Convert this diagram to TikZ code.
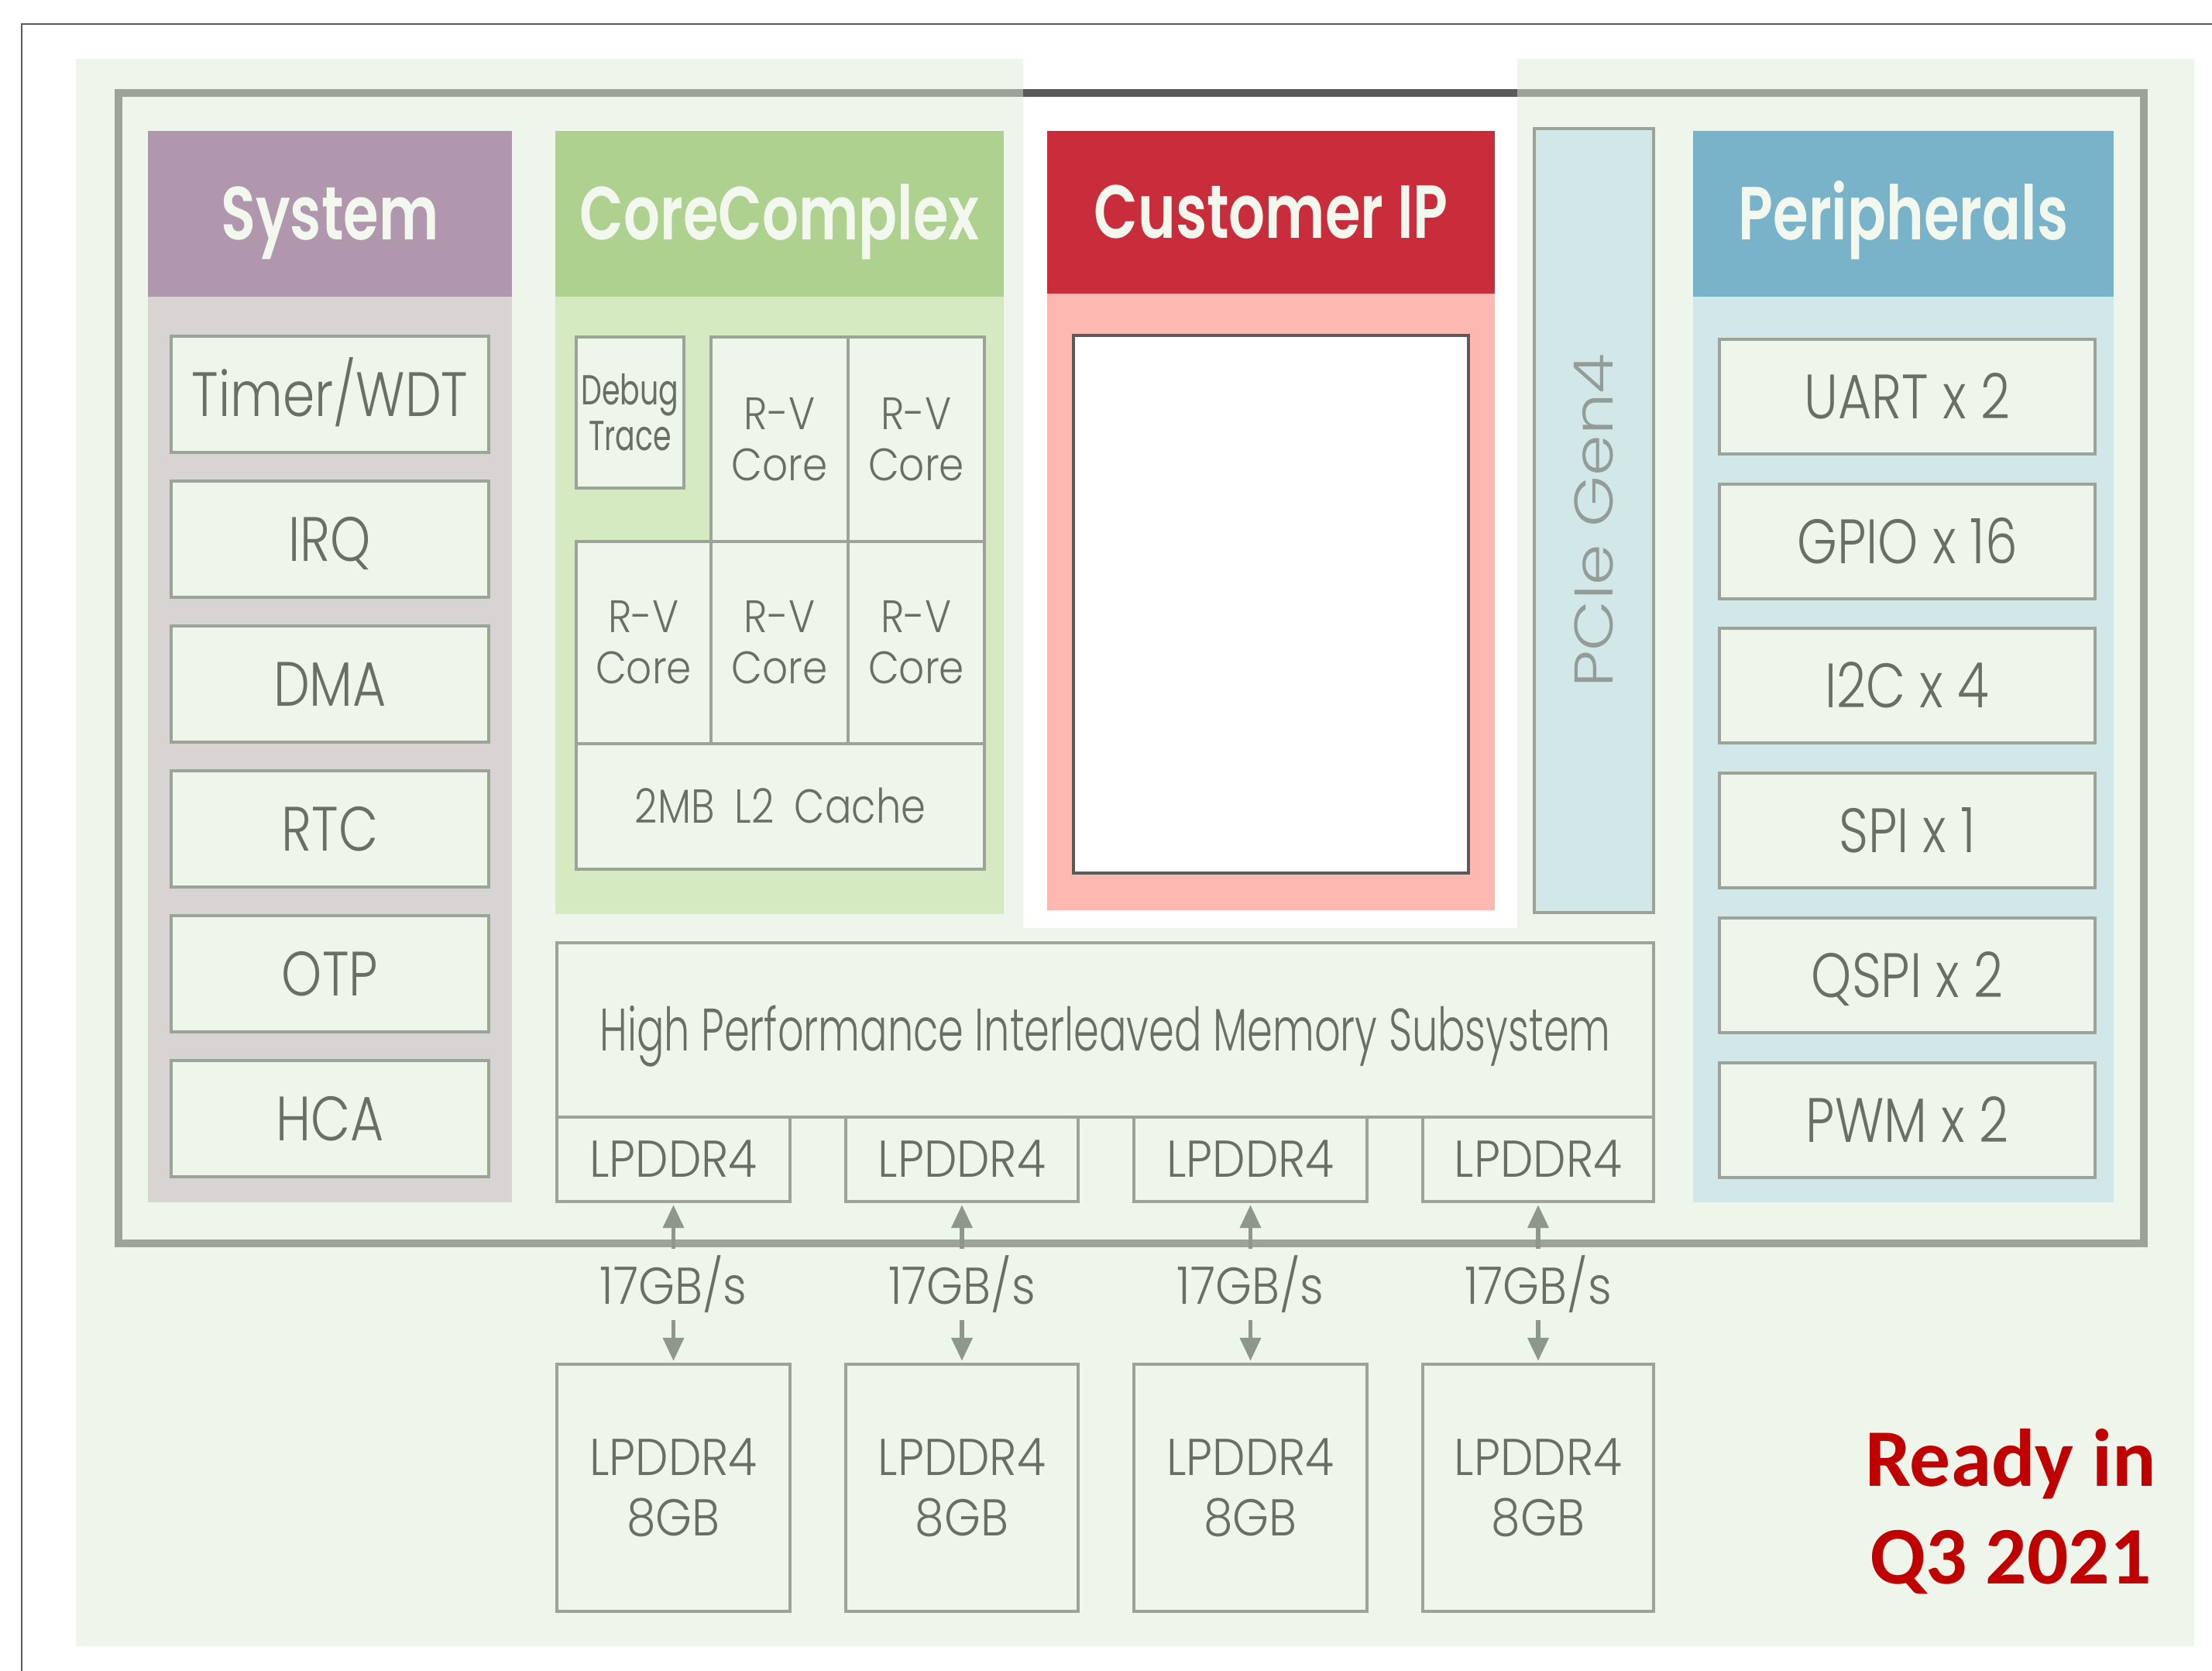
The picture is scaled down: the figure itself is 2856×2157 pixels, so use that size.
\documentclass[tikz,border=0pt]{standalone}
\usepackage{fontspec}
\usetikzlibrary{arrows.meta}
\newfontfamily\hdfont{Poppins SemiBold}[FakeStretch=0.76]
\newfontfamily\itfont{Poppins Light}[FakeStretch=0.82]
\newfontfamily\ddfont{Poppins Light}[FakeStretch=0.9]
\newfontfamily\mmfont{Poppins Light}[FakeStretch=0.68]
\newfontfamily\rvfont{Poppins Light}[FakeStretch=0.88]
\newfontfamily\lcfont{Poppins Light}[FakeStretch=0.83]
\newfontfamily\dbfont{Poppins}[FakeStretch=0.7]
\newfontfamily\pcfont{Poppins Light}[FakeStretch=1.2]
\newfontfamily\rdfont{Carlito}
\definecolor{bgc}{HTML}{EEF5EB}
\definecolor{bordc}{HTML}{9CA398}
\definecolor{txtc}{HTML}{687065}
\definecolor{sysh}{HTML}{B097AE}
\definecolor{sysb}{HTML}{D9D4D4}
\definecolor{corh}{HTML}{AED190}
\definecolor{corb}{HTML}{D5EAC1}
\definecolor{cush}{HTML}{C92C3A}
\definecolor{cusb}{HTML}{FDB9B1}
\definecolor{perh}{HTML}{78B3C9}
\definecolor{perb}{HTML}{D2E8E8}
\definecolor{darkc}{HTML}{5A5A5A}
\definecolor{redc}{HTML}{C00000}
\definecolor{arrc}{HTML}{8E978B}
\definecolor{pcit}{HTML}{939C97}
\definecolor{hdt}{HTML}{F3F8EF}
\newcommand\mkbox[7]{\node[#6, minimum width={(#4-#2)*0.01cm}, minimum height={(#5-#3)*0.01cm}] (#1) at ({(#2+#4)/2},{(#3+#5)/2}) {#7};}
\tikzset{
  base/.style={inner sep=0pt, outer sep=0pt, align=center},
  body/.style={base},
  capc/.style={text height=#1, text depth=0pt},
  hdr/.style={base, capc=19.3pt, text=hdt, font=\hdfont\fontsize{27.6}{30}\selectfont},
  item/.style={base, draw=bordc, line width=1.2pt, fill=bgc, text=txtc, font=\itfont\fontsize{23}{27}\selectfont},
  one/.style={item, capc=16.1pt},
  core/.style={item, line width=1pt, font=\rvfont\fontsize{16.7}{18.8}\selectfont},
  dbg/.style={item, line width=1pt, font=\dbfont\fontsize{15.4}{16.8}\selectfont},
  mem/.style={item, capc=15.4pt, font=\mmfont\fontsize{22}{26}\selectfont},
  ddr/.style={item, font=\ddfont\fontsize{19}{22.2}\selectfont},
  arr/.style={arrc, line width=1.6pt, {Triangle[width=7.5pt,length=8.5pt]}-{Triangle[width=7.5pt,length=8.5pt]}, shorten <=1.2pt, shorten >=1.2pt},
  rate/.style={fill=bgc, inner sep=2.5pt, text=txtc, font=\ddfont\fontsize{19}{22}\selectfont},
  red/.style={anchor=base, text=redc, inner sep=0pt, font=\rdfont\bfseries\fontsize{30}{36}\selectfont}
}
\begin{document}
\begin{tikzpicture}[x=0.01cm, y=-0.01cm]
\useasboundingbox (0,0) rectangle (2856,2157);
\fill[white] (0,0) rectangle (2856,2157);
% outer thin frame
\draw[darkc, line width=0.85pt] (2900,31) -- (28,31) -- (28,2200);
% light green background with white notch
\fill[bgc] (98,76) rectangle (2833,2125);
\fill[white] (1321,76) rectangle (1959,1198);
% chip frame
\draw[bordc, line width=2.85pt] (153,120) rectangle (2768,1605);
\draw[darkc, line width=2.85pt] (1321,120) -- (1959,120);
% bodies
\mkbox{bsys}{191}{383}{661}{1552}{body, fill=sysb}{}
\mkbox{bcor}{717}{383}{1296}{1180}{body, fill=corb}{}
\mkbox{bcus}{1352}{379}{1930}{1175}{body, fill=cusb}{}
\mkbox{bper}{2186}{383}{2729}{1552}{body, fill=perb}{}
% headers
\mkbox{hsys}{191}{169}{661}{383}{hdr, fill=sysh}{System}
\mkbox{hcor}{717}{169}{1296}{383}{hdr, fill=corh}{CoreComplex}
\mkbox{hcus}{1352}{169}{1930}{379}{hdr, fill=cush}{Customer IP}
\mkbox{hper}{2186}{169}{2729}{383}{hdr, fill=perh}{Peripherals}
% system items
\mkbox{s1}{221}{434}{631}{584}{one}{Timer/WDT}
\mkbox{s2}{221}{621}{631}{771}{one}{IRQ}
\mkbox{s3}{221}{808}{631}{958}{one}{DMA}
\mkbox{s4}{221}{995}{631}{1145}{one}{RTC}
\mkbox{s5}{221}{1182}{631}{1332}{one}{OTP}
\mkbox{s6}{221}{1369}{631}{1519}{one}{HCA}
% core complex
\mkbox{dbg}{744}{435}{883}{630}{dbg}{Debug\\Trace}
\mkbox{c1}{918}{435}{1095}{699}{core}{R-V\\Core}
\mkbox{c2}{1095}{435}{1271}{699}{core}{R-V\\Core}
\mkbox{c3}{744}{699}{918}{960}{core}{R-V\\Core}
\mkbox{c4}{918}{699}{1095}{960}{core}{R-V\\Core}
\mkbox{c5}{1095}{699}{1271}{960}{core}{R-V\\Core}
\mkbox{l2}{744}{960}{1271}{1122}{core, capc=12.3pt, font=\lcfont\fontsize{17.5}{20}\selectfont}{2MB\hspace{0.2em} L2\hspace{0.2em} Cache}
% customer IP
\mkbox{cip}{1386}{433}{1896}{1127}{base, fill=white, draw=darkc, line width=1pt}{}
% PCIe
\mkbox{pcie}{1981}{166}{2135}{1178}{item, fill=perb}{}
\node[base, capc=14pt, rotate=90, text=pcit, font=\pcfont\fontsize{20}{22}\selectfont] (pcietxt) at (pcie.center) {PCIe Gen4};
% peripherals
\mkbox{p1}{2220}{438}{2705}{586}{one}{UART x 2}
\mkbox{p2}{2220}{625}{2705}{773}{one}{GPIO x 16}
\mkbox{p3}{2220}{811}{2705}{959}{one}{I2C x 4}
\mkbox{p4}{2220}{998}{2705}{1146}{one}{SPI x 1}
\mkbox{p5}{2220}{1185}{2705}{1333}{one}{QSPI x 2}
\mkbox{p6}{2220}{1372}{2705}{1520}{one}{PWM x 2}
% memory subsystem
\mkbox{mem}{719}{1217}{2135}{1442}{mem}{High Performance Interleaved Memory Subsystem}
\mkbox{m1}{719}{1442}{1020}{1551}{ddr, capc=13.3pt}{LPDDR4}
\mkbox{m2}{1092}{1442}{1392}{1551}{ddr, capc=13.3pt}{LPDDR4}
\mkbox{m3}{1464}{1442}{1765}{1551}{ddr, capc=13.3pt}{LPDDR4}
\mkbox{m4}{1837}{1442}{2135}{1551}{ddr, capc=13.3pt}{LPDDR4}
\mkbox{d1}{719}{1761}{1020}{2080}{ddr}{LPDDR4\\8GB}
\mkbox{d2}{1092}{1761}{1392}{2080}{ddr}{LPDDR4\\8GB}
\mkbox{d3}{1464}{1761}{1765}{2080}{ddr}{LPDDR4\\8GB}
\mkbox{d4}{1837}{1761}{2135}{2080}{ddr}{LPDDR4\\8GB}
\foreach \i in {1,...,4}{
  \draw[arr] (m\i.south) -- (d\i.north) node[rate, midway, yshift=-0.6pt] (r\i) {17GB/s};
}
% ready text
\node[red] (ready1) at (2596,1918) {Ready in};
\node[red] (ready2) at (2596,2044) {Q3 2021};
\end{tikzpicture}
\end{document}
